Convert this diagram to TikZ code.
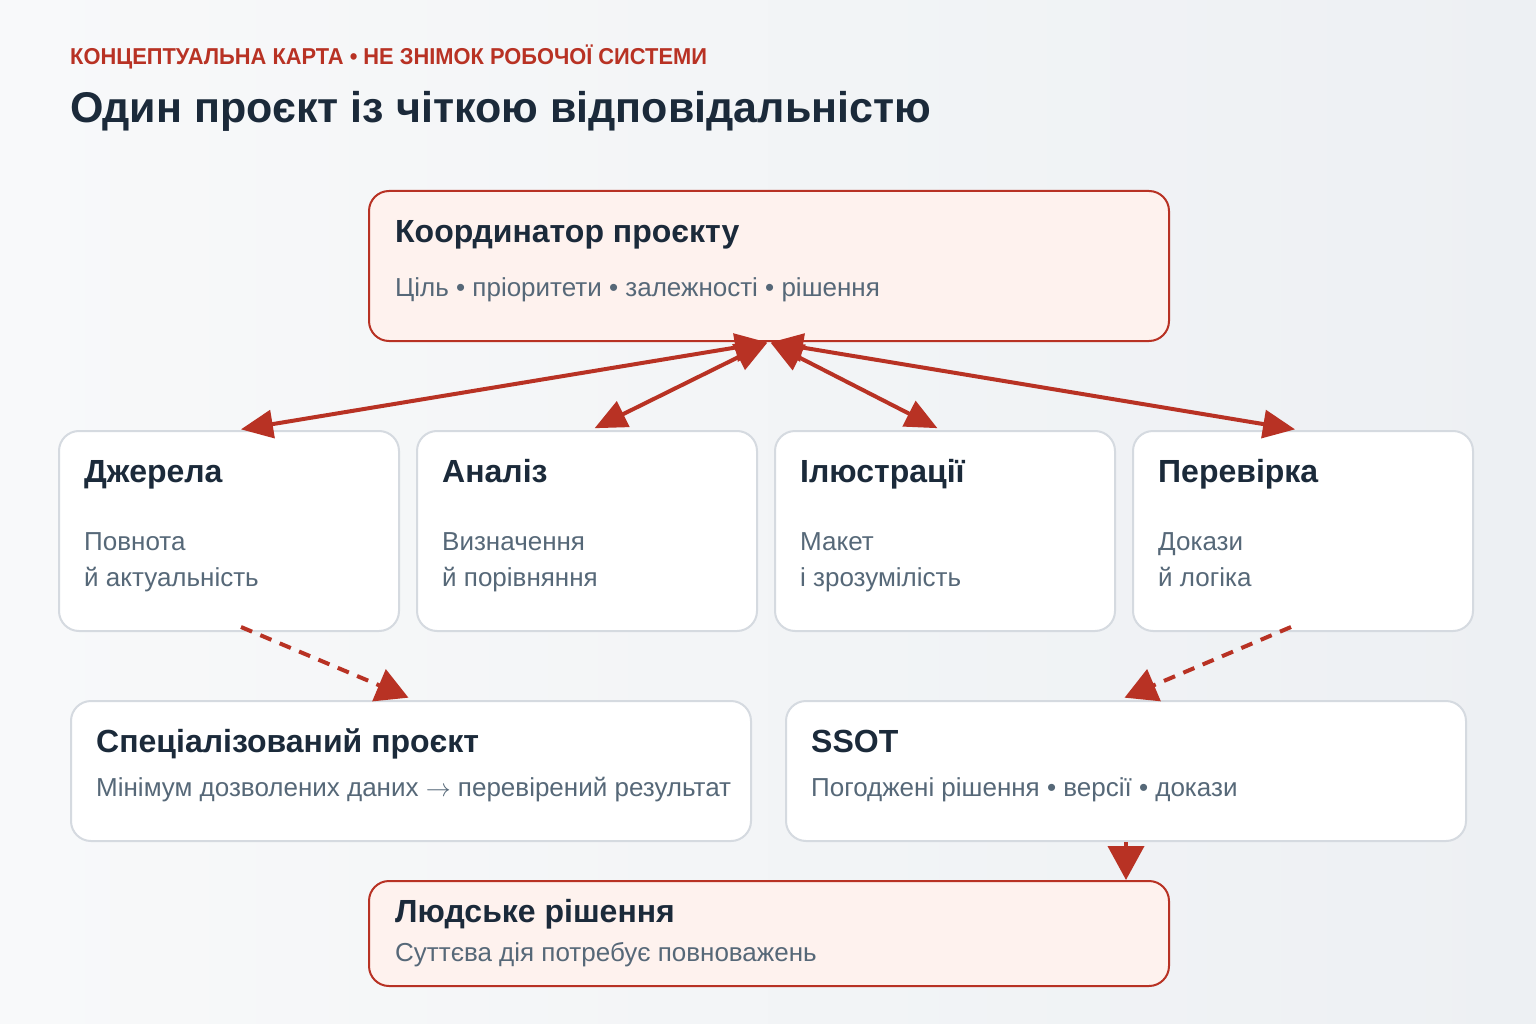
\documentclass[tikz,border=0pt]{standalone}
\usepackage{fontspec}
\setmainfont{Liberation Sans}
\usetikzlibrary{arrows.meta}
\definecolor{redc}{HTML}{B83224}
\definecolor{pinkf}{HTML}{FEF2EE}
\definecolor{darkt}{HTML}{1B2A3A}
\definecolor{grayt}{HTML}{566878}
\definecolor{bordg}{HTML}{D5DAE0}
\definecolor{bgA}{HTML}{F8F9FA}
\definecolor{bgB}{HTML}{EDF0F3}
\tikzset{
  whitebox/.style={draw=bordg, line width=2pt, fill=white, rounded corners=20pt, anchor=north west, inner sep=0pt},
  pinkbox/.style={draw=redc, line width=2pt, fill=pinkf, rounded corners=20pt, anchor=north west, inner sep=0pt},
  ttl/.style={anchor=base west, inner sep=0pt, text=darkt, font=\fontsize{32}{36}\selectfont\bfseries},
  body/.style={anchor=base west, inner sep=0pt, text=grayt, font=\fontsize{26}{36}\selectfont, align=left},
  conn/.style={draw=redc, line width=4pt, {Triangle[length=32pt,width=28pt]}-{Triangle[length=32pt,width=28pt]}, shorten <=2pt, shorten >=4pt},
  dconn/.style={draw=redc, line width=4pt, dash pattern=on 12pt off 9pt, -{Triangle[length=32pt,width=34pt]}, shorten >=6pt},
  sconn/.style={draw=redc, line width=4pt, -{Triangle[length=34pt,width=36pt]}},
}
\begin{document}
\begin{tikzpicture}[x=1pt,y=-1pt]
\shade[left color=bgA, right color=bgB] (0,0) rectangle (1536,1024);
\useasboundingbox (0,0) rectangle (1536,1024);

\node[anchor=base west, inner sep=0pt, text=redc, font=\fontsize{23}{26}\selectfont\bfseries] (kicker) at (70,65) {\scalebox{0.95}[1]{КОНЦЕПТУАЛЬНА КАРТА • НЕ ЗНІМОК РОБОЧОЇ СИСТЕМИ}};
\node[anchor=base west, inner sep=0pt, text=darkt, font=\fontsize{43}{48}\selectfont\bfseries] (title) at (70,123) {Один проєкт із чіткою відповідальністю};

% coordinator
\node[pinkbox, minimum width=800pt, minimum height=150pt] (coord) at (368,190) {};
\node[ttl] (coordT) at (395,243) {Координатор проєкту};
\node[body] (coordB) at (395,296) {Ціль • пріоритети • залежності • рішення};

% row boxes
\node[whitebox, minimum width=340pt, minimum height=200pt] (src) at (58,430) {};
\node[whitebox, minimum width=340pt, minimum height=200pt] (ana) at (416,430) {};
\node[whitebox, minimum width=340pt, minimum height=200pt] (ill) at (774,430) {};
\node[whitebox, minimum width=340pt, minimum height=200pt] (chk) at (1132,430) {};

\node[ttl] (srcT) at (84,482) {Джерела};
\node[body] (srcB) at (84,586) {Повнота\\й актуальність};
\node[ttl] (anaT) at (442,482) {Аналіз};
\node[body] (anaB) at (442,586) {Визначення\\й порівняння};
\node[ttl] (illT) at (800,482) {Ілюстрації};
\node[body] (illB) at (800,586) {Макет\\і зрозумілість};
\node[ttl] (chkT) at (1158,482) {Перевірка};
\node[body] (chkB) at (1158,586) {Докази\\й логіка};

% lower boxes
\node[whitebox, minimum width=680pt, minimum height=140pt] (spec) at (70,700) {};
\node[ttl] (specT) at (96,752) {Спеціалізований проєкт};
\node[body] (specB) at (96,796) {Мінімум дозволених даних $\rightarrow$ перевірений результат};

\node[whitebox, minimum width=680pt, minimum height=140pt] (ssot) at (785,700) {};
\node[ttl] (ssotT) at (811,752) {SSOT};
\node[body] (ssotB) at (811,796) {Погоджені рішення • версії • докази};

\node[pinkbox, minimum width=800pt, minimum height=105pt] (human) at (368,880) {};
\node[ttl] (humanT) at (395,922) {Людське рішення};
\node[body] (humanB) at (395,961) {Суттєва дія потребує повноважень};

% connectors
\draw[conn] (coord.south) -- ([xshift=8pt]src.north);
\draw[conn] (coord.south) -- ([xshift=4pt]ana.north);
\draw[conn] (coord.south) -- ([xshift=-4pt]ill.north);
\draw[conn] (coord.south) -- ([xshift=-4pt]chk.north);

\draw[dconn] ([xshift=12pt,yshift=5pt]src.south) -- ([xshift=3pt]spec.north);
\draw[dconn] ([xshift=-12pt,yshift=5pt]chk.south) -- ([xshift=-7pt]ssot.north);

\coordinate (ssotDown) at (ssot.south);
\draw[sconn] (ssotDown) -- (ssotDown |- human.north);
\end{tikzpicture}
\end{document}
